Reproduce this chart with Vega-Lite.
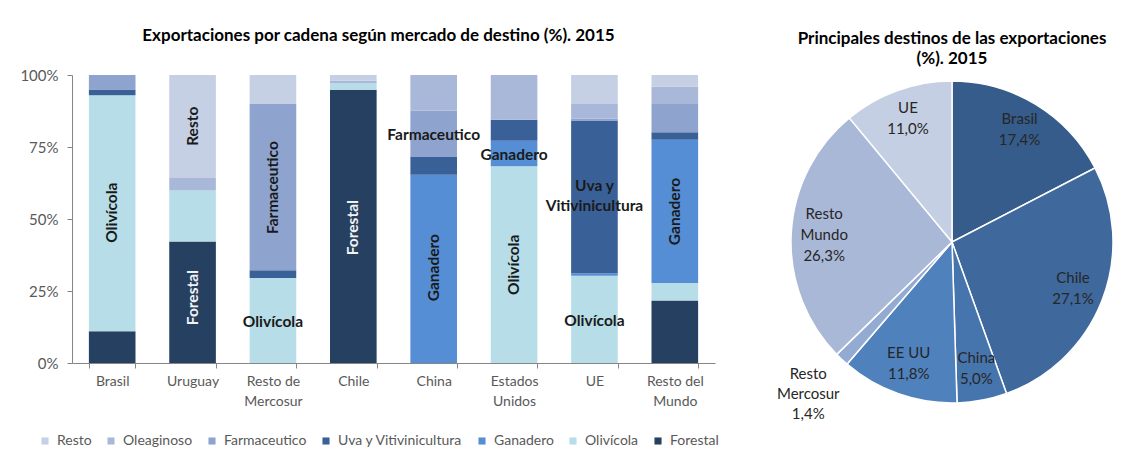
{
  "$schema": "https://vega.github.io/schema/vega-lite/v6.json",
  "background": "white",
  "padding": {"left": 19, "top": 27, "right": 0, "bottom": 0},
  "spacing": 46,
  "bounds": "flush",
  "resolve": {"scale": {"color": "independent"}, "legend": {"color": "independent"}},
  "config": {
    "font": "Lato",
    "view": {"stroke": null}
  },
  "datasets": {
    "export": [
      {"pais": "Brasil", "cadena": "Forestal", "pct": 11},
      {"pais": "Brasil", "cadena": "Olivícola", "pct": 82},
      {"pais": "Brasil", "cadena": "Uva y Vitivinicultura", "pct": 2},
      {"pais": "Brasil", "cadena": "Farmaceutico", "pct": 5},
      {"pais": "Uruguay", "cadena": "Forestal", "pct": 42.2},
      {"pais": "Uruguay", "cadena": "Olivícola", "pct": 17.7},
      {"pais": "Uruguay", "cadena": "Oleaginoso", "pct": 4.3},
      {"pais": "Uruguay", "cadena": "Resto", "pct": 35.8},
      {"pais": "Resto de Mercosur", "cadena": "Olivícola", "pct": 29.5},
      {"pais": "Resto de Mercosur", "cadena": "Uva y Vitivinicultura", "pct": 2.7},
      {"pais": "Resto de Mercosur", "cadena": "Farmaceutico", "pct": 57.7},
      {"pais": "Resto de Mercosur", "cadena": "Resto", "pct": 10.1},
      {"pais": "Chile", "cadena": "Forestal", "pct": 94.9},
      {"pais": "Chile", "cadena": "Olivícola", "pct": 2.3},
      {"pais": "Chile", "cadena": "Oleaginoso", "pct": 0.9},
      {"pais": "Chile", "cadena": "Resto", "pct": 1.9},
      {"pais": "China", "cadena": "Ganadero", "pct": 65.4},
      {"pais": "China", "cadena": "Uva y Vitivinicultura", "pct": 6.1},
      {"pais": "China", "cadena": "Farmaceutico", "pct": 16.2},
      {"pais": "China", "cadena": "Oleaginoso", "pct": 12.3},
      {"pais": "Estados Unidos", "cadena": "Olivícola", "pct": 68.3},
      {"pais": "Estados Unidos", "cadena": "Ganadero", "pct": 8.9},
      {"pais": "Estados Unidos", "cadena": "Uva y Vitivinicultura", "pct": 7.3},
      {"pais": "Estados Unidos", "cadena": "Oleaginoso", "pct": 15.5},
      {"pais": "UE", "cadena": "Olivícola", "pct": 30.3},
      {"pais": "UE", "cadena": "Ganadero", "pct": 0.9},
      {"pais": "UE", "cadena": "Uva y Vitivinicultura", "pct": 53.0},
      {"pais": "UE", "cadena": "Farmaceutico", "pct": 0.6},
      {"pais": "UE", "cadena": "Oleaginoso", "pct": 5.1},
      {"pais": "UE", "cadena": "Resto", "pct": 10.1},
      {"pais": "Resto del Mundo", "cadena": "Forestal", "pct": 21.7},
      {"pais": "Resto del Mundo", "cadena": "Olivícola", "pct": 6.1},
      {"pais": "Resto del Mundo", "cadena": "Ganadero", "pct": 49.7},
      {"pais": "Resto del Mundo", "cadena": "Uva y Vitivinicultura", "pct": 2.6},
      {"pais": "Resto del Mundo", "cadena": "Farmaceutico", "pct": 9.8},
      {"pais": "Resto del Mundo", "cadena": "Oleaginoso", "pct": 6.1},
      {"pais": "Resto del Mundo", "cadena": "Resto", "pct": 4.0}
    ],
    "rotV": [
      {"pais": "Brasil", "pos": 52.2, "texto": "Olivícola"},
      {"pais": "Uruguay", "pos": 82.2, "texto": "Resto"},
      {"pais": "Resto de Mercosur", "pos": 60.9, "texto": "Farmaceutico"},
      {"pais": "China", "pos": 33.1, "texto": "Ganadero"},
      {"pais": "Estados Unidos", "pos": 34.1, "texto": "Olivícola"},
      {"pais": "Resto del Mundo", "pos": 52.6, "texto": "Ganadero"}
    ],
    "rotVB": [
      {"pais": "Uruguay", "pos": 22.7, "texto": "Forestal"},
      {"pais": "Chile", "pos": 47, "texto": "Forestal"}
    ],
    "rotH": [
      {"pais": "Resto de Mercosur", "pos": 14.3, "texto": "Olivícola"},
      {"pais": "China", "pos": 79.3, "texto": "Farmaceutico"},
      {"pais": "Estados Unidos", "pos": 72.1, "texto": "Ganadero"},
      {"pais": "UE", "pos": 61.3, "texto": "Uva y\nVitivinicultura"},
      {"pais": "UE", "pos": 14.7, "texto": "Olivícola"}
    ],
    "destinos": [
      {"destino": "Brasil", "pct": 17.4},
      {"destino": "Chile", "pct": 27.1},
      {"destino": "China", "pct": 5.0},
      {"destino": "EE UU", "pct": 11.8},
      {"destino": "Resto Mercosur", "pct": 1.4},
      {"destino": "Resto Mundo", "pct": 26.3},
      {"destino": "UE", "pct": 11.0}
    ]
  },
  "hconcat": [
    {
      "width": 643,
      "height": 288,
      "title": {
        "text": "Exportaciones por cadena según mercado de destino (%). 2015",
        "fontSize": 17,
        "fontWeight": "bold",
        "color": "#000000",
        "anchor": "middle",
        "dx": -15,
        "offset": 23
      },
      "encoding": {
        "x": {
          "field": "pais",
          "type": "nominal",
          "scale": {
            "domain": ["Brasil", "Uruguay", "Resto de Mercosur", "Chile", "China", "Estados Unidos", "UE", "Resto del Mundo"],
            "paddingInner": 0.42,
            "paddingOuter": 0.21
          },
          "axis": {
            "title": null,
            "labelAngle": 0,
            "labelFontSize": 14,
            "labelColor": "#595959",
            "labelLineHeight": 20,
            "labelPadding": 6,
            "tickBand": "extent",
            "tickSize": 5,
            "tickColor": "#868686",
            "domainColor": "#868686",
            "labelExpr": "datum.label == 'Resto de Mercosur' ? ['Resto de', 'Mercosur'] : datum.label == 'Estados Unidos' ? ['Estados', 'Unidos'] : datum.label == 'Resto del Mundo' ? ['Resto del', 'Mundo'] : datum.label"
          }
        },
        "y": {
          "field": "pos",
          "type": "quantitative",
          "scale": {"domain": [0, 100]},
          "axis": {
            "title": null,
            "values": [0, 25, 50, 75, 100],
            "labelExpr": "datum.value + '%'",
            "labelFontSize": 15,
            "labelColor": "#595959",
            "tickSize": 5,
            "labelPadding": 9,
            "tickColor": "#868686",
            "domainColor": "#868686",
            "grid": false
          }
        }
      },
      "layer": [
        {
          "data": {"name": "export"},
          "transform": [
            {"calculate": "indexof(['Forestal', 'Olivícola', 'Ganadero', 'Uva y Vitivinicultura', 'Farmaceutico', 'Oleaginoso', 'Resto'], datum.cadena)", "as": "orden"}
          ],
          "mark": {"type": "bar"},
          "encoding": {
            "y": {"field": "pct", "type": "quantitative", "stack": "zero"},
            "color": {
              "field": "cadena",
              "type": "nominal",
              "scale": {
                "domain": ["Resto", "Oleaginoso", "Farmaceutico", "Uva y Vitivinicultura", "Ganadero", "Olivícola", "Forestal"],
                "range": ["#C6D0E4", "#A9B8D8", "#8EA3CE", "#3A6098", "#558ED5", "#B7DEE8", "#254061"]
              },
              "legend": {
                "orient": "none",
                "legendX": -34,
                "legendY": 359,
                "direction": "horizontal",
                "title": null,
                "symbolType": "square",
                "symbolSize": 50,
                "symbolStrokeWidth": 0,
                "labelFontSize": 14,
                "labelColor": "#595959",
                "columnPadding": 12,
                "labelOffset": 5
              }
            },
            "order": {"field": "orden", "type": "quantitative"}
          }
        },
        {
          "data": {"name": "rotV"},
          "mark": {"type": "text", "angle": 270, "fontSize": 15.5, "fontWeight": "bold", "color": "#1a1a1a", "baseline": "middle", "align": "center"},
          "encoding": {"text": {"field": "texto"}}
        },
        {
          "data": {"name": "rotVB"},
          "mark": {"type": "text", "angle": 270, "fontSize": 15.5, "fontWeight": "bold", "color": "#F2F2F2", "baseline": "middle", "align": "center"},
          "encoding": {"text": {"field": "texto"}}
        },
        {
          "data": {"name": "rotH"},
          "mark": {"type": "text", "fontSize": 15.5, "fontWeight": "bold", "color": "#1a1a1a", "baseline": "middle", "align": "center", "lineBreak": "\n", "lineHeight": 20},
          "encoding": {"text": {"field": "texto"}}
        }
      ]
    },
    {
      "width": 382,
      "height": 334,
      "title": {
        "text": ["Principales destinos de las exportaciones", "(%). 2015"],
        "fontSize": 17,
        "fontWeight": "bold",
        "color": "#000000",
        "lineHeight": 20,
        "anchor": "middle",
        "offset": 7
      },
      "data": {"name": "destinos"},
      "transform": [
        {"calculate": "indexof(['Brasil', 'Chile', 'China', 'EE UU', 'Resto Mercosur', 'Resto Mundo', 'UE'], datum.destino)", "as": "orden"},
        {"stack": "pct", "groupby": [], "sort": [{"field": "orden", "order": "ascending"}], "as": ["t0", "t1"]},
        {"calculate": "(datum.t0 + datum.t1) / 2", "as": "tm"},
        {"calculate": "replace(datum.destino, 'Resto ', 'Resto|') + '|' + replace(format(datum.pct, '.1f'), '.', ',') + '%'", "as": "rotulo"}
      ],
      "layer": [
        {
          "mark": {"type": "arc", "outerRadius": 161, "stroke": "white", "strokeWidth": 1.5},
          "encoding": {
            "theta": {"field": "t0", "type": "quantitative", "scale": {"domain": [0, 100]}},
            "theta2": {"field": "t1"},
            "color": {
              "field": "destino",
              "type": "nominal",
              "scale": {
                "domain": ["Brasil", "Chile", "China", "EE UU", "Resto Mercosur", "Resto Mundo", "UE"],
                "range": ["#355C8A", "#3F689C", "#4674AD", "#4F81BD", "#93ABD3", "#A9B8D6", "#C5CFE3"]
              },
              "legend": null
            }
          }
        },
        {
          "transform": [{"filter": "datum.destino != 'Resto Mercosur' && datum.destino != 'Resto Mundo'"}],
          "mark": {"type": "text", "radius": 130, "dy": -11.5, "fontSize": 15, "color": "#262626", "lineBreak": "|", "lineHeight": 21, "align": "center", "baseline": "middle"},
          "encoding": {
            "theta": {"field": "tm", "type": "quantitative", "scale": {"domain": [0, 100]}},
            "text": {"field": "rotulo"}
          }
        },
        {
          "transform": [{"filter": "datum.destino == 'Resto Mundo'"}],
          "mark": {"type": "text", "radius": 128, "dy": -21, "fontSize": 15, "color": "#262626", "lineBreak": "|", "lineHeight": 21, "align": "center", "baseline": "middle"},
          "encoding": {
            "theta": {"field": "tm", "type": "quantitative", "scale": {"domain": [0, 100]}},
            "text": {"field": "rotulo"}
          }
        },
        {
          "transform": [{"filter": "datum.destino == 'Resto Mercosur'"}],
          "mark": {"type": "text", "radius": 210, "dy": -21, "fontSize": 15, "color": "#262626", "lineBreak": "|", "lineHeight": 20, "align": "center", "baseline": "middle"},
          "encoding": {
            "theta": {"field": "tm", "type": "quantitative", "scale": {"domain": [0, 100]}},
            "text": {"field": "rotulo"}
          }
        }
      ]
    }
  ]
}
